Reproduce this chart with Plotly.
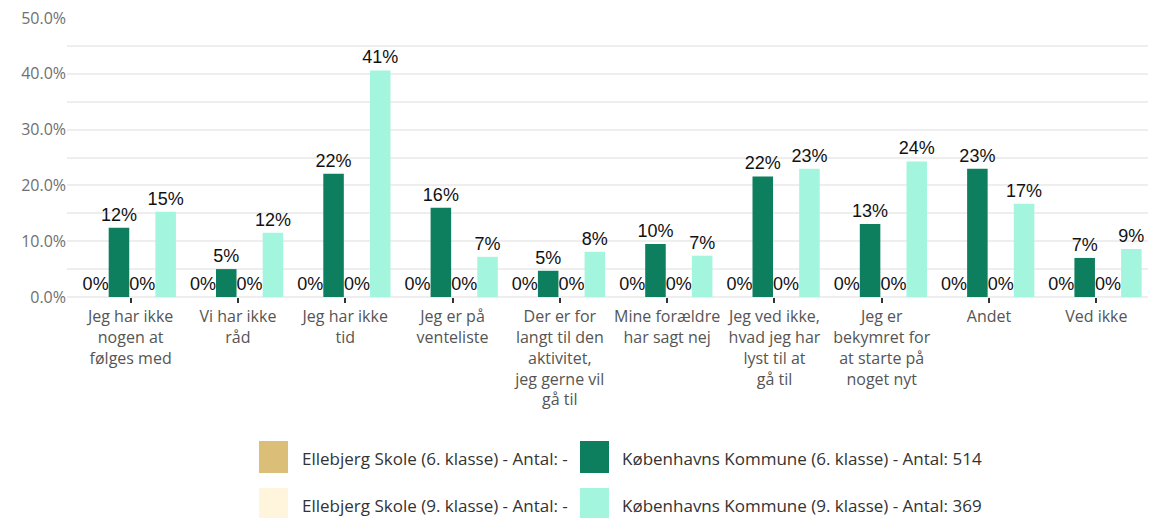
import plotly.graph_objects as go

categories = [
    "Jeg har ikke<br>nogen at<br>følges med",
    "Vi har ikke<br>råd",
    "Jeg har ikke<br>tid",
    "Jeg er på<br>venteliste",
    "Der er for<br>langt til den<br>aktivitet,<br>jeg gerne vil<br>gå til",
    "Mine forældre<br>har sagt nej",
    "Jeg ved ikke,<br>hvad jeg har<br>lyst til at<br>gå til",
    "Jeg er<br>bekymret for<br>at starte på<br>noget nyt",
    "Andet",
    "Ved ikke",
]

series_names = [
    "Ellebjerg Skole (6. klasse) - Antal: -",
    "Københavns Kommune (6. klasse) - Antal: 514",
    "Ellebjerg Skole (9. klasse) - Antal: -",
    "Københavns Kommune (9. klasse) - Antal: 369",
]
series_colors = ["#DBBE78", "#0E7F5E", "#FFF5DC", "#A3F5DE"]

ellebjerg_6 = [0, 0, 0, 0, 0, 0, 0, 0, 0, 0]
kbh_6 = [0.124, 0.050, 0.221, 0.160, 0.047, 0.095, 0.216, 0.131, 0.230, 0.070]
ellebjerg_9 = [0, 0, 0, 0, 0, 0, 0, 0, 0, 0]
kbh_9 = [0.153, 0.115, 0.406, 0.072, 0.081, 0.074, 0.230, 0.243, 0.167, 0.086]

series_values = [ellebjerg_6, kbh_6, ellebjerg_9, kbh_9]

y_tickvals = [0, 0.1, 0.2, 0.3, 0.4, 0.5]
y_ticktext = ["0.0%", "10.0%", "20.0%", "30.0%", "40.0%", "50.0%"]

# page body has an 8px margin, so the figure is offset by 8px
W, H = 1148, 510
L, R, T, B = 59, 6, 9, 221
PW = W - L - R
PH = H - T - B

fig = go.Figure()
for name, color, vals in zip(series_names, series_colors, series_values):
    fig.add_trace(go.Bar(
        x=categories, y=vals, name=name,
        marker=dict(color=color, line=dict(width=0)),
        text=[f"{round(v*100):.0f}%" for v in vals],
        textposition="outside",
        constraintext="none",
        textfont=dict(family="Liberation Sans, Arial", size=18, color="#111111"),
        cliponaxis=False,
        showlegend=False,
    ))

fig.update_layout(
    width=W, height=H,
    margin=dict(l=L, r=R, t=T, b=B, autoexpand=False),
    plot_bgcolor="white", paper_bgcolor="white",
    barmode="group", bargap=0.13, bargroupgap=0.12,
    xaxis=dict(
        range=[-0.593, 9.5],
        ticks="outside", ticklen=5, tickwidth=2, tickcolor="#333333",
        tickfont=dict(family="Open Sans, Noto Sans", size=16, color="#555555"),
        showgrid=False, zeroline=False, showline=False,
        tickangle=0, automargin=False,
    ),
    yaxis=dict(
        range=[0, 0.5018],
        tickvals=y_tickvals, ticktext=y_ticktext,
        tickfont=dict(family="Open Sans, Noto Sans", size=16, color="#707070"),
        ticklabeloverflow="allow",
        showgrid=True, gridcolor="#EEEEEE", gridwidth=2,
        minor=dict(tickvals=[0.05, 0.15, 0.25, 0.35, 0.45], showgrid=True,
                   gridcolor="#EEEEEE", gridwidth=2),
        zeroline=True, zerolinecolor="#EEEEEE", zerolinewidth=2,
        showline=False, ticks="", automargin=False,
    ),
)

# manual legend (2 columns x 2 rows), positions in page pixels
sq_x = [259, 580]
txt_x = [300, 620]
sq_y = [441, 488]
positions = [(0, 0), (1, 0), (0, 1), (1, 1)]


def px_to_paper_x(px):
    return (px - 8 - L) / PW


def px_to_paper_y(py):
    return 1 - (py - 8 - T) / PH


for (ci, ri), name, color in zip(positions, series_names, series_colors):
    fig.add_shape(type="rect", xref="paper", yref="paper",
                  x0=px_to_paper_x(sq_x[ci]), x1=px_to_paper_x(sq_x[ci] + 29),
                  y0=px_to_paper_y(sq_y[ri] + 32), y1=px_to_paper_y(sq_y[ri]),
                  fillcolor=color, line=dict(width=0), layer="above")
    fig.add_annotation(xref="paper", yref="paper",
                       x=px_to_paper_x(txt_x[ci]), y=px_to_paper_y(sq_y[ri] + 17),
                       xanchor="left", yanchor="middle", showarrow=False,
                       text=name, xshift=0,
                       font=dict(family="Open Sans, Noto Sans", size=17, color="#333333"))

fig.write_html("out.html")
